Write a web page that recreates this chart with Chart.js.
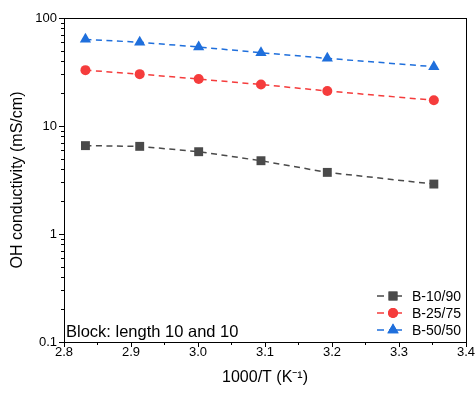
<!DOCTYPE html>
<html>
<head>
<meta charset="utf-8">
<script src="https://cdn.jsdelivr.net/npm/chart.js@4.4.0/dist/chart.umd.min.js"></script>
<style>
html,body{margin:0;padding:0;background:#fff;}
#wrap{width:475px;height:395px;}
</style>
</head>
<body>
<div id="wrap"><canvas id="c" width="475" height="395"></canvas></div>
<script>
const xValues = [2.832, 2.913, 3.001, 3.094, 3.193, 3.352];
const seriesLabels = ['B-10/90', 'B-25/75', 'B-50/50'];
const b1090 = [6.58, 6.48, 5.78, 4.77, 3.72, 2.90];
const b2575 = [32.9, 30.2, 27.2, 24.2, 21.1, 17.3];
const b5050 = [63.4, 59.6, 53.9, 47.7, 42.3, 35.4];
const xTicks = [2.8, 2.9, 3.0, 3.1, 3.2, 3.3, 3.4];
const yTicks = [0.1, 1, 10, 100];
const annotationText = 'Block: length 10 and 10';

const colors = ['#4a4a4a', '#f53c3c', '#1f6fdc'];
const shapes = ['rect', 'circle', 'triangle'];
const radii = [6.3, 5, 6.5];

function mk(i, vals) {
  return {
    label: seriesLabels[i],
    data: xValues.map((x, k) => ({x: x, y: vals[k]})),
    borderColor: colors[i],
    backgroundColor: colors[i],
    borderWidth: 1.5,
    borderDash: [6, 4.5],
    showLine: true,
    pointStyle: shapes[i],
    pointRadius: radii[i],
    pointBorderWidth: 0,
    pointHoverRadius: radii[i],
    tension: 0
  };
}

const FONT = 'Liberation Sans, Arial, sans-serif';

const decor = {
  id: 'decor',
  afterDraw(chart) {
    const ctx = chart.ctx;
    const a = chart.chartArea;
    const xs = chart.scales.x, ys = chart.scales.y;
    ctx.save();
    ctx.strokeStyle = '#000';
    ctx.lineWidth = 1;
    ctx.strokeRect(Math.round(a.left) + 0.5, Math.round(a.top) + 0.5, Math.round(a.right - a.left), Math.round(a.bottom - a.top));
    ctx.beginPath();
    for (let v = 2.8; v <= 3.4001; v += 0.05) {
      const p = Math.round(xs.getPixelForValue(v)) + 0.5;
      const major = Math.abs(Math.round(v * 10) - v * 10) < 1e-6;
      ctx.moveTo(p, a.bottom);
      ctx.lineTo(p, a.bottom + (major ? 5 : 3));
    }
    for (let e = -1; e <= 2; e++) {
      for (let m = 1; m <= 9; m++) {
        const v = m * Math.pow(10, e);
        if (v > 100.0001) break;
        const p = Math.round(ys.getPixelForValue(v)) + 0.5;
        ctx.moveTo(a.left, p);
        ctx.lineTo(a.left - (m === 1 ? 5 : 3), p);
      }
    }
    ctx.stroke();
    ctx.fillStyle = '#000';
    ctx.font = '16.5px ' + FONT;
    ctx.textBaseline = 'alphabetic';
    ctx.textAlign = 'left';
    ctx.fillText(annotationText, a.left + 2, a.bottom - 5);
    ctx.font = '14px ' + FONT;
    ctx.textBaseline = 'middle';
    const ly = [296, 313, 330];
    chart.data.datasets.forEach((ds, i) => {
      const y = ly[i];
      ctx.strokeStyle = ds.borderColor;
      ctx.lineWidth = 1.5;
      ctx.beginPath();
      ctx.moveTo(377, y); ctx.lineTo(384, y);
      ctx.moveTo(389, y); ctx.lineTo(402, y);
      ctx.stroke();
      ctx.fillStyle = ds.backgroundColor;
      Chart.helpers.drawPoint(ctx, {pointStyle: ds.pointStyle, radius: ds.pointRadius, borderWidth: 0}, 393, y);
      ctx.fill();
      ctx.fillStyle = '#000';
      ctx.fillText(ds.label, 412, y + 1);
    });
    ctx.restore();
  }
};

new Chart(document.getElementById('c'), {
  type: 'scatter',
  data: { datasets: [mk(0, b1090), mk(1, b2575), mk(2, b5050)] },
  options: {
    responsive: false,
    animation: false,
    devicePixelRatio: 1,
    layout: { padding: { left: 0, right: 9, top: 18, bottom: 0 } },
    plugins: { legend: { display: false }, tooltip: { enabled: false } },
    scales: {
      x: {
        type: 'linear', min: 2.8, max: 3.4,
        afterBuildTicks: s => { s.ticks = xTicks.map(v => ({value: v})); },
        afterFit: s => { s.height = 53; s.paddingLeft = 0; s.paddingRight = 0; },
        grid: { display: false, drawTicks: false },
        border: { display: false },
        ticks: { color: '#000', font: { family: FONT, size: 13 }, padding: 3, maxRotation: 0,
          callback: v => Number(v).toFixed(1) },
        title: { display: true, text: '1000/T (K\u207B\u00B9)', color: '#000', font: { family: FONT, size: 16 }, padding: { top: 8, bottom: 8 } }
      },
      y: {
        type: 'logarithmic', min: 0.1, max: 100,
        afterBuildTicks: s => { s.ticks = yTicks.map(v => ({value: v})); },
        afterFit: s => { s.width = 64; s.paddingTop = 0; s.paddingBottom = 0; },
        grid: { display: false, drawTicks: false },
        border: { display: false },
        ticks: { color: '#000', font: { family: FONT, size: 13 }, padding: 7,
          callback: v => String(v) },
        title: { display: true, text: 'OH conductivity (mS/cm)', color: '#000', font: { family: FONT, size: 16 }, padding: { top: 8, bottom: 0 } }
      }
    }
  },
  plugins: [decor]
});
</script>
</body>
</html>
